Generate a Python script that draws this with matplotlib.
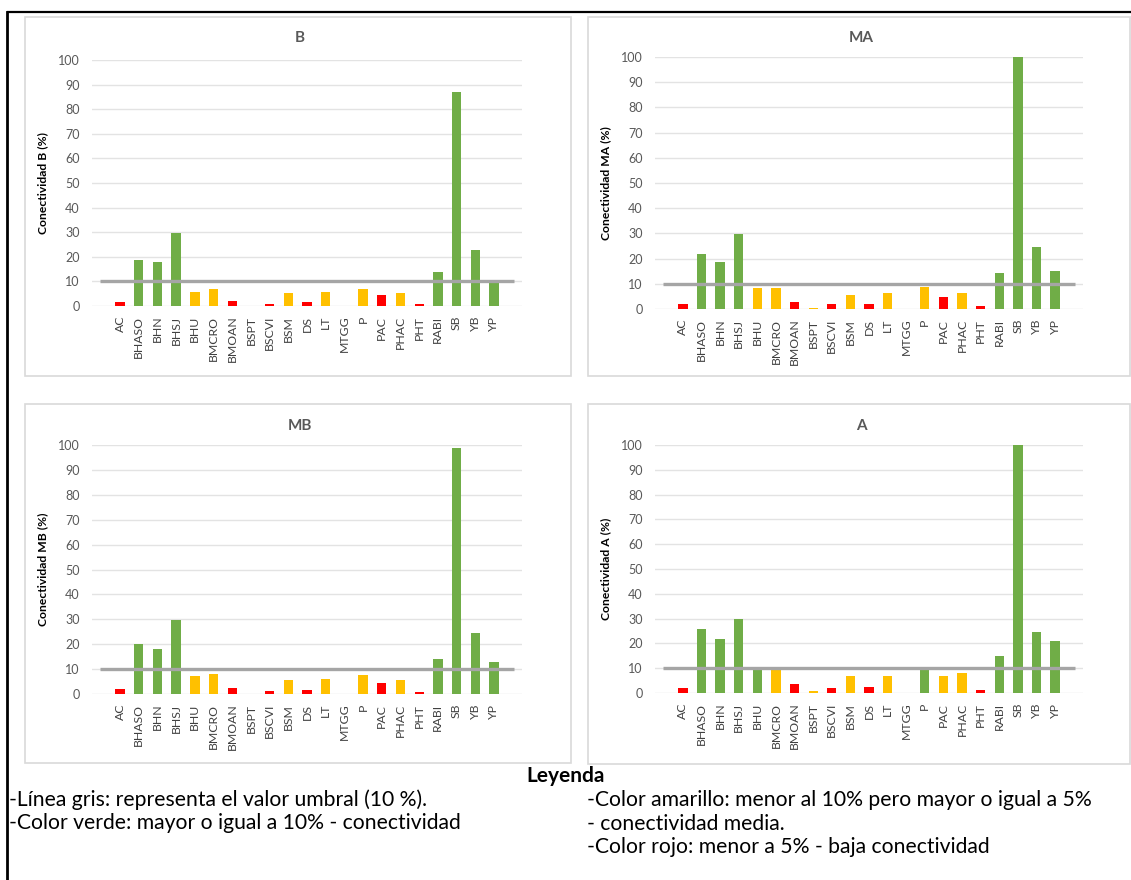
import matplotlib
matplotlib.use("Agg")
import matplotlib.pyplot as plt
from matplotlib.patches import Rectangle
from matplotlib.lines import Line2D

plt.rcParams['font.family'] = ['Lato', 'DejaVu Sans']

categories = ["AC", "BHASO", "BHN", "BHSJ", "BHU", "BMCRO", "BMOAN", "BSPT", "BSCVI",
              "BSM", "DS", "LT", "MTGG", "P", "PAC", "PHAC", "PHT", "RABI", "SB", "YB", "YP"]

values_B = [1.8, 18.8, 17.9, 29.8, 5.8, 6.9, 2.0, 0.0, 0.8, 5.1, 1.5, 5.6, 0.0, 6.9,
            4.5, 5.1, 0.8, 13.8, 86.9, 22.6, 9.6]
colors_B = "RGGGYYR-RYRY-YRYRGGGG"

values_MA = [2.0, 21.9, 18.7, 29.9, 8.3, 8.3, 2.6, 0.4, 1.9, 5.7, 1.9, 6.2, 0.0, 8.6,
             4.9, 6.2, 1.1, 14.4, 100.0, 24.6, 15.2]
colors_MA = "RGGGYYRYRYRY-YRYRGGGG"

values_MB = [2.0, 20.1, 18.2, 29.8, 7.4, 7.9, 2.5, 0.0, 1.3, 5.6, 1.6, 5.9, 0.0, 7.6,
             4.4, 5.6, 0.8, 14.2, 98.9, 24.3, 12.7]
colors_MB = "RGGGYYR-RYRY-YRYRGGGG"

values_A = [2.1, 25.8, 21.9, 29.9, 9.9, 9.4, 3.6, 0.8, 2.1, 7.0, 2.4, 7.0, 0.0, 9.9,
            6.7, 7.9, 1.1, 15.0, 100.0, 24.7, 20.9]
colors_A = "RGGGGYRYRYRY-GYYRGGGG"

titles = ["B", "MA", "MB", "A"]
ylabels = ["Conectividad B (%)", "Conectividad MA (%)", "Conectividad MB (%)", "Conectividad A (%)"]
threshold = 10
yticks = list(range(0, 101, 10))

legend_title = "Leyenda"
legend_left = ["-Línea gris: representa el valor umbral (10 %).",
               "-Color verde: mayor o igual a 10% - conectividad"]
legend_right = ["-Color amarillo: menor al 10% pero mayor o igual a 5%",
                "- conectividad media.",
                "-Color rojo: menor a 5% - baja conectividad"]

palette = {"G": "#70AD47", "Y": "#FFC000", "R": "#FF0000", "-": "#70AD47"}

W, H = 1131, 880
fig = plt.figure(figsize=(W / 100, H / 100), dpi=100)


def fx(px):
    return px / W


def fy(py):
    return 1 - py / H


def add_box(x0, y0, x1, y1):
    fig.patches.append(Rectangle((fx(x0), fy(y1)), fx(x1) - fx(x0), fy(y0) - fy(y1),
                                 transform=fig.transFigure, fill=False,
                                 edgecolor="#D9D9D9", linewidth=1.2, zorder=0))


panels = [
    # box (x0, y0, x1, y1), plot (left, right, top, bottom), title y, ylabel x
    ((25, 17, 571, 376), (92, 522, 60, 306), 38, 43, values_B, colors_B),
    ((588, 17, 1130, 376), (655, 1083, 57, 309), 38, 606, values_MA, colors_MA),
    ((25, 404, 571, 763), (92, 522, 445, 694), 426, 43, values_MB, colors_MB),
    ((588, 404, 1130, 764), (655, 1083, 445, 693), 426, 606, values_A, colors_A),
]

for i, (box, pa, ty, ylx, vals, cols) in enumerate(panels):
    add_box(*box)
    l, r, t, b = pa
    ax = fig.add_axes([fx(l), fy(b), fx(r) - fx(l), fy(t) - fy(b)])
    x = list(range(len(categories)))
    ax.bar(x, vals, width=0.5, color=[palette[c] for c in cols], zorder=2)
    ax.plot([-1.07, len(categories) + 0.05], [threshold, threshold], color="#A5A5A5",
            linewidth=2.4, zorder=3, solid_capstyle="butt")
    ax.set_xlim(-1.5, len(categories) + 0.5)
    ax.set_ylim(0, 100)
    ax.set_yticks(yticks)
    ax.yaxis.grid(True, color="#E3E3E3", linewidth=1.0, zorder=0)
    ax.set_axisbelow(True)
    for s in ax.spines.values():
        s.set_visible(False)
    ax.set_xticks(x)
    ax.set_xticklabels(categories, rotation=90, fontsize=8.8, color="#404040")
    ax.tick_params(axis="both", length=0, colors="#595959")
    ax.tick_params(axis="x", pad=7, labelcolor="#404040")
    ax.tick_params(axis="y", pad=9, labelsize=9)
    ax.set_facecolor("none")
    fig.text(fx((box[0] + box[2]) / 2 + 2), fy(ty), titles[i], ha="center", va="center",
             fontsize=11, fontweight="bold", color="#595959")
    fig.text(fx(ylx), fy((t + b) / 2), ylabels[i], rotation=90, ha="center", va="center",
             fontsize=8.7, fontweight="bold", color="#000000")

# outer document border lines
fig.add_artist(Line2D([fx(8), fx(1131)], [fy(12), fy(12)], transform=fig.transFigure,
                      color="black", linewidth=1.6))
fig.add_artist(Line2D([fx(7), fx(7)], [fy(12), fy(880)], transform=fig.transFigure,
                      color="black", linewidth=2.0))

fig.text(fx(566), fy(776), legend_title, ha="center", va="center", fontsize=15,
         fontweight="bold", color="black")
for k, line in enumerate(legend_left):
    fig.text(fx(9), fy(800 + 23 * k), line, ha="left", va="center", fontsize=15.2,
             color="black")
for k, line in enumerate(legend_right):
    fig.text(fx(587), fy(800 + 23.5 * k), line, ha="left", va="center", fontsize=15.2,
             color="black")

fig.savefig("out.png", dpi=100, facecolor="white")
